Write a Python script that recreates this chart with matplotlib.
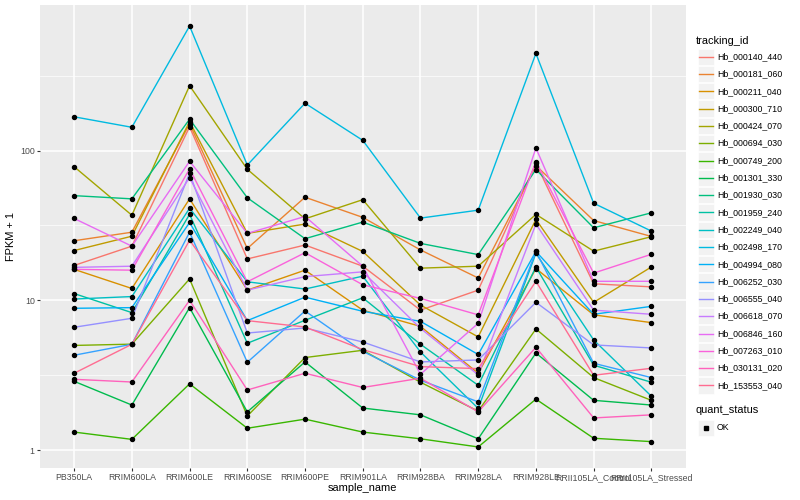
import numpy as np
import matplotlib
matplotlib.use("Agg")
import matplotlib.pyplot as plt
from matplotlib.patches import Rectangle

plt.rcParams['font.family'] = ['Liberation Sans', 'DejaVu Sans']

samples = ["PB350LA", "RRIM600LA", "RRIM600LE", "RRIM600SE", "RRIM600PE", "RRIM901LA",
           "RRIM928BA", "RRIM928LA", "RRIM928LE", "RRII105LA_Control", "RRII105LA_Stressed"]

genes = ["Hb_000140_440", "Hb_000181_060", "Hb_000211_040", "Hb_000300_710", "Hb_000424_070",
         "Hb_000694_030", "Hb_000749_200", "Hb_001301_330", "Hb_001930_030", "Hb_001959_240",
         "Hb_002249_040", "Hb_002498_170", "Hb_004994_080", "Hb_006252_030", "Hb_006555_040",
         "Hb_006618_070", "Hb_006846_160", "Hb_007263_010", "Hb_030131_020", "Hb_153553_040"]

# FPKM + 1 per gene, one value per sample
hb_000140_440 = [17.1, 23, 144, 18.9, 23.4, 16.9, 8.6, 11.7, 82, 12.9, 12.3]
hb_000181_060 = [25, 28.5, 151, 22.2, 48.8, 35.8, 21.7, 14.1, 79.4, 34.1, 26.7]
hb_000211_040 = [16.1, 12, 47.6, 11.7, 15.9, 8.6, 6.7, 3.26, 16.3, 8, 7.1]
hb_000300_710 = [21.5, 26.8, 156, 28, 32.3, 21.2, 9.3, 5.7, 34.7, 9.7, 16.7]
hb_000424_070 = [78, 37, 271, 75, 35, 47, 16.4, 16.9, 37.5, 21.3, 26.6]
hb_000694_030 = [5.0, 5.1, 13.9, 1.69, 4.15, 4.64, 2.84, 1.82, 6.44, 3.05, 2.15]
hb_000749_200 = [1.32, 1.18, 2.77, 1.4, 1.61, 1.32, 1.19, 1.05, 2.19, 1.2, 1.14]
hb_001301_330 = [2.88, 2.0, 8.94, 1.8, 3.88, 1.91, 1.72, 1.19, 4.45, 2.15, 2.0]
hb_001930_030 = [50, 47.6, 162, 48.4, 25.8, 33.3, 24, 20.2, 74.7, 30.5, 38.4]
hb_001959_240 = [11.1, 8.28, 37.5, 5.17, 7.36, 10.4, 5.09, 2.71, 16.7, 3.69, 2.84]
hb_002249_040 = [10.2, 10.6, 41.2, 13.3, 11.9, 14.5, 4.52, 1.9, 20.6, 5.44, 2.29]
hb_002498_170 = [168, 143, 678, 80, 207, 117, 35.4, 40, 445, 44.5, 29]
hb_004994_080 = [8.85, 8.94, 33.1, 7.32, 10.5, 8.45, 7.24, 4.35, 21.2, 8.07, 9.12]
hb_006252_030 = [4.3, 5.09, 28.5, 3.86, 8.49, 4.57, 2.93, 2.1, 21.2, 3.8, 3.05]
hb_006555_040 = [6.61, 7.59, 70.6, 6.05, 6.54, 5.27, 3.88, 4.0, 9.7, 5.04, 4.81]
hb_006618_070 = [16.6, 16.9, 66, 11.7, 14.4, 15.5, 6.5, 3.18, 32.3, 8.6, 8.07]
hb_006846_160 = [35.2, 23, 84.8, 28, 36.3, 16.9, 3.21, 7.03, 104, 13.4, 13.4]
hb_007263_010 = [16.1, 15.9, 75.5, 13.3, 20.8, 12.7, 10.3, 8.0, 84.4, 15.2, 20.3]
hb_030131_020 = [2.97, 2.85, 10, 2.52, 3.26, 2.62, 3.02, 1.8, 4.86, 1.64, 1.72]
hb_153553_040 = [3.26, 5.09, 25.2, 7.32, 6.64, 4.69, 3.61, 3.5, 13.4, 3.16, 3.52]

series = [hb_000140_440, hb_000181_060, hb_000211_040, hb_000300_710, hb_000424_070,
          hb_000694_030, hb_000749_200, hb_001301_330, hb_001930_030, hb_001959_240,
          hb_002249_040, hb_002498_170, hb_004994_080, hb_006252_030, hb_006555_040,
          hb_006618_070, hb_006846_160, hb_007263_010, hb_030131_020, hb_153553_040]

# ggplot hue palette, 20 levels
colors = ["#F8766D", "#EA8331", "#D89000", "#C09B00", "#A3A500", "#7CAE00", "#39B600",
          "#00BB4E", "#00BF7D", "#00C1A3", "#00BFC4", "#00BAE0", "#00B0F6", "#35A2FF",
          "#9590FF", "#C77CFF", "#E76BF3", "#FA62DB", "#FF62BC", "#FF6C91"]

W, H = 800, 500
fig = plt.figure(figsize=(8, 5), dpi=100)
left, right, top, bottom = 39.5, 686, 5, 468
ax = fig.add_axes([left / W, 1 - bottom / H, (right - left) / W, (bottom - top) / H])
ax.set_facecolor("#EBEBEB")

x = np.arange(len(samples))
for vals, c in zip(series, colors):
    ax.plot(x, vals, color=c, lw=1.0, zorder=3)
for vals in series:
    ax.plot(x, vals, ls="none", marker="o", ms=2.9, color="black", zorder=4)

ax.set_yscale("log")
allv = np.log10(np.concatenate([np.array(s) for s in series]))
lo, hi = allv.min(), allv.max()
pad = 0.05 * (hi - lo)
ax.set_ylim(10 ** (lo - pad), 10 ** (hi + pad))
ax.set_xlim(-0.6, len(samples) - 0.4)

ax.set_yticks([1, 10, 100])
ax.set_yticklabels(["1", "10", "100"])
ax.set_yticks([10 ** 0.5, 10 ** 1.5, 10 ** 2.5], minor=True)
ax.yaxis.set_minor_formatter(plt.NullFormatter())
ax.set_xticks(x)
ax.set_xticklabels(samples)

ax.grid(True, which="major", color="white", lw=1.1, zorder=0)
ax.grid(True, which="minor", axis="y", color="white", lw=0.5, zorder=0)
ax.set_axisbelow(True)
for s in ax.spines.values():
    s.set_visible(False)
ax.tick_params(axis="both", which="major", length=2.2, width=0.8, color="#333333",
               labelsize=6.3, labelcolor="#4D4D4D", pad=1.2)
ax.tick_params(axis="y", which="minor", length=0)

ax.set_xlabel("sample_name", fontsize=7.9, labelpad=1)
ax.set_ylabel("FPKM + 1", fontsize=7.9, labelpad=3)

# legends drawn in pixel space
lg = fig.add_axes([0, 0, 1, 1])
lg.set_xlim(0, W)
lg.set_ylim(H, 0)
lg.axis("off")
lg.patch.set_alpha(0)

lg.text(696, 40.5, "tracking_id", fontsize=7.9, va="center", ha="left")
key = 17.3
y0 = 56.7
for i, (g, c) in enumerate(zip(genes, colors)):
    yc = y0 + i * key
    lg.add_patch(Rectangle((697.5, yc - key / 2 + 0.5), 16.3, key - 1, facecolor="#F2F2F2",
                           edgecolor="white", lw=0.5))
    lg.plot([699, 712.5], [yc, yc], color=c, lw=1.0)
    lg.text(717, yc, g, fontsize=6.3, va="center", ha="left")

lg.text(696, 410, "quant_status", fontsize=7.9, va="center", ha="left")
lg.add_patch(Rectangle((697.5, 428 - key / 2 + 0.5), 16.3, key - 1, facecolor="#F2F2F2",
                       edgecolor="white", lw=0.5))
lg.plot([705.6], [428], marker="s", ms=2.8, color="black", ls="none")
lg.text(717, 428, "OK", fontsize=6.3, va="center", ha="left")

fig.savefig("out.png", dpi=100)
